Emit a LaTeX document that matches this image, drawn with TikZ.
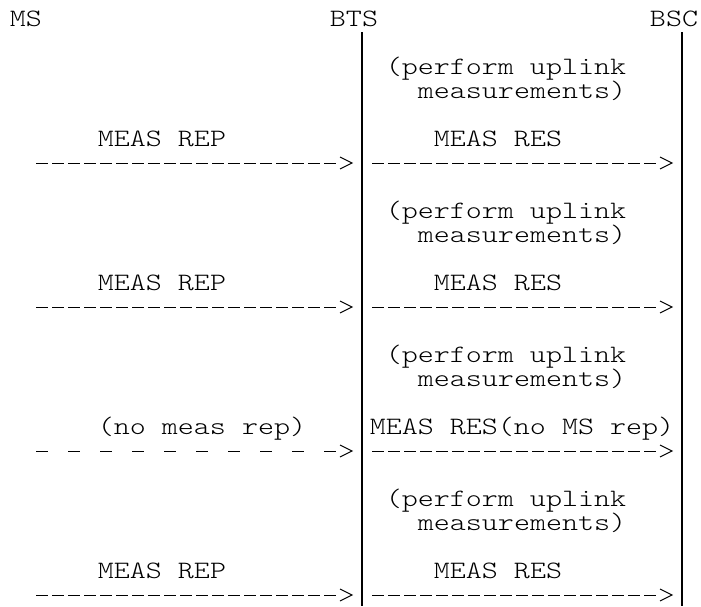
\documentclass[tikz,border=0pt]{standalone}
\usepackage{fontspec}
\newfontfamily\asciifont[FakeStretch=1.22]{lmmonolt10-regular.otf}
\begin{document}
\begin{tikzpicture}[x=1pt,y=-1pt,
  lbl/.style={font={\asciifont\fontsize{25}{25}\selectfont}, inner sep=0pt, outer sep=0pt, anchor=base},
  shaft/.style={line width=1pt, dash pattern=on 12pt off 4pt},
  sparse/.style={line width=1pt, dash pattern=on 12pt off 20pt},
  chev/.style={line width=1pt, line join=miter},
  life/.style={line width=1.2pt}]
\useasboundingbox (0,0) rectangle (701,606);
% entities
\node[lbl] (ms)  at (26,26.6)  {MS};
\node[lbl] (bts) at (354,26.6) {BTS};
\node[lbl] (bsc) at (674,26.6) {BSC};
\coordinate (btstop) at (362,32);
\coordinate (btsbot) at (362,606);
\coordinate (bsctop) at (682,32);
\coordinate (bscbot) at (682,606);
\draw[life] (btstop) -- (btsbot);
\draw[life] (bsctop) -- (bscbot);
% measurement notes and message coordinates
\foreach \k in {0,1,2,3} {
  \node[lbl] (perf\k) at (506,{74.6+144*\k}) {(perform uplink};
  \node[lbl] (meas\k) at (522,{98.6+144*\k}) {measurements)};
  \coordinate (ls\k) at (36,{163+144*\k});
  \coordinate (le\k) at (336,{163+144*\k});
  \coordinate (lt\k) at (352,{163+144*\k});
  \coordinate (rs\k) at (372,{163+144*\k});
  \coordinate (re\k) at (656,{163+144*\k});
  \coordinate (rt\k) at (672,{163+144*\k});
}
% labels
\node[lbl] (rep0) at (162,146.6) {MEAS REP};
\node[lbl] (res0) at (498,146.6) {MEAS RES};
\node[lbl] (rep1) at (162,290.6) {MEAS REP};
\node[lbl] (res1) at (498,290.6) {MEAS RES};
\node[lbl] (rep2) at (202,434.6) {(no meas rep)};
\node[lbl] (res2) at (522,434.6) {MEAS RES(no MS rep)};
\node[lbl] (rep3) at (162,578.6) {MEAS REP};
\node[lbl] (res3) at (498,578.6) {MEAS RES};
% messages
\draw[shaft]  (ls0) -- (le0);
\draw[shaft]  (ls1) -- (le1);
\draw[sparse] (ls2) -- (le2);
\draw[shaft]  (ls3) -- (le3);
\foreach \k in {0,1,2,3} {
  \draw[shaft] (rs\k) -- (re\k);
  \draw[chev] (lt\k) ++(-12,-6) -- (lt\k) -- ++(-12,6);
  \draw[chev] (rt\k) ++(-12,-6) -- (rt\k) -- ++(-12,6);
}
\end{tikzpicture}
\end{document}
